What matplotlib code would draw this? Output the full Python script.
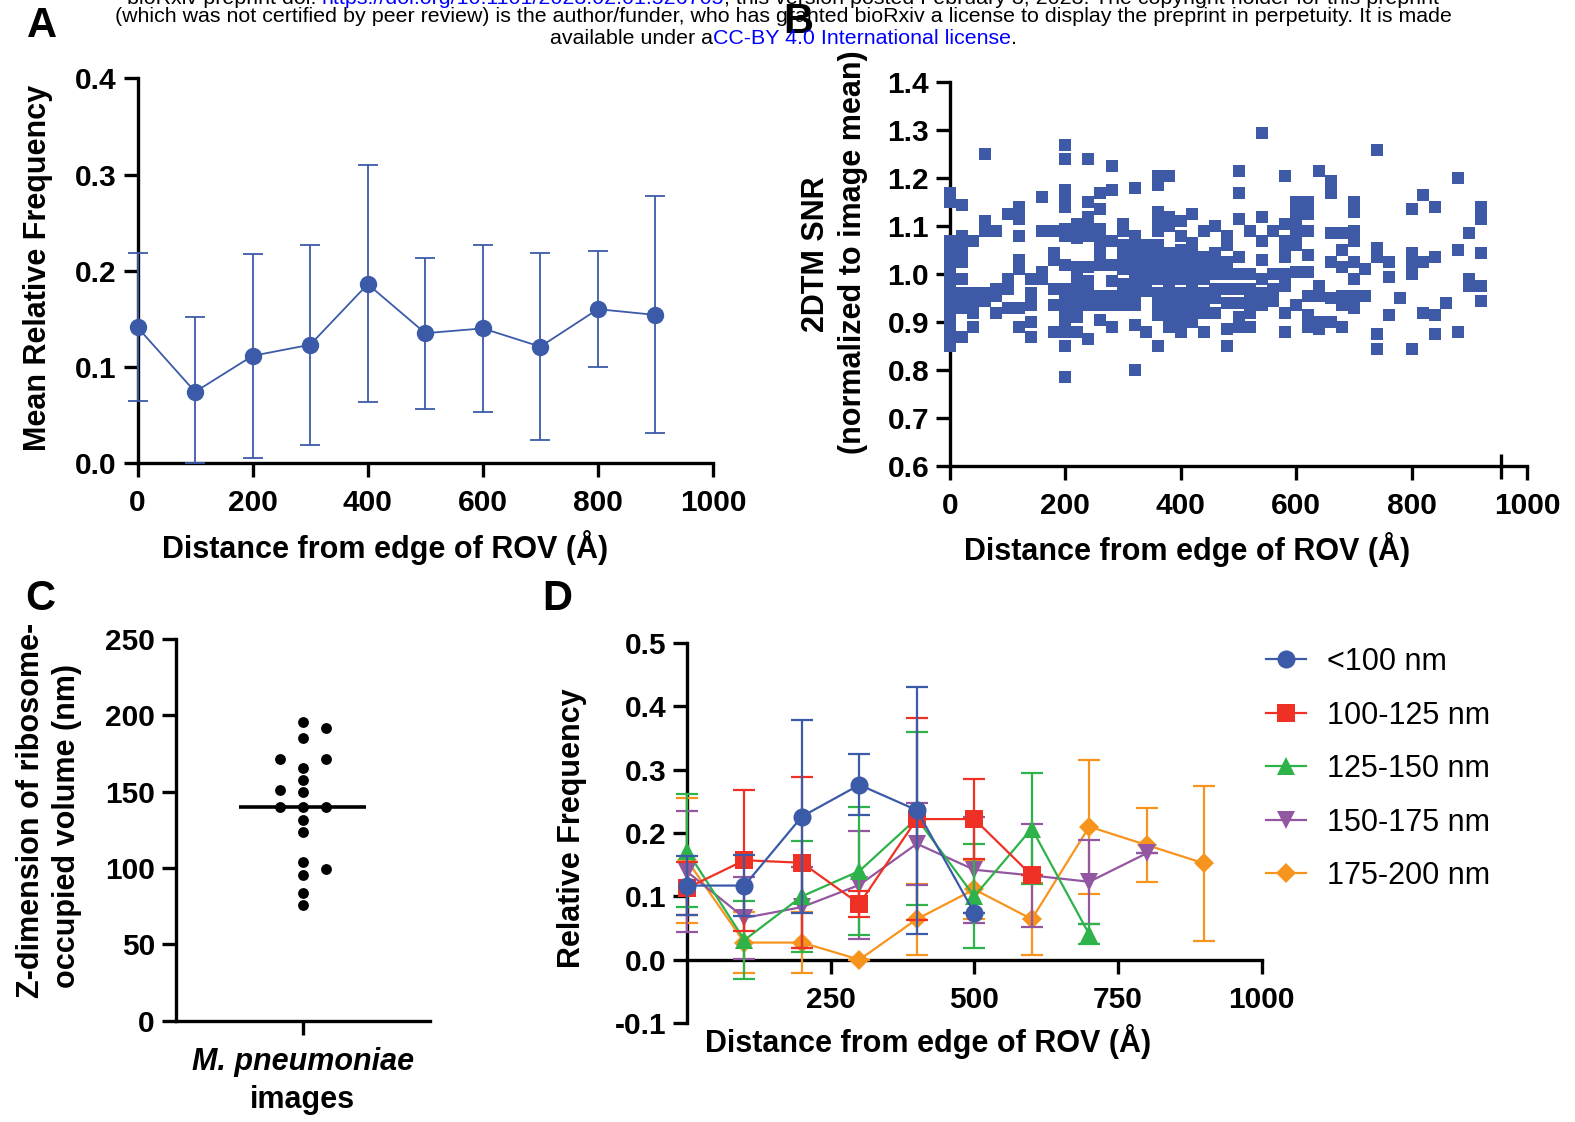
import matplotlib
matplotlib.use("Agg")
import matplotlib.pyplot as plt
import numpy as np

# ---- panel A: mean relative frequency vs distance ----
a_dist = [0, 100, 200, 300, 400, 500, 600, 700, 800, 900]
a_mean = [0.141, 0.074, 0.1115, 0.123, 0.186, 0.135, 0.140, 0.121, 0.160, 0.154]
a_low = [0.064, 0.0, 0.005, 0.019, 0.063, 0.056, 0.053, 0.024, 0.100, 0.031]
a_high = [0.218, 0.152, 0.217, 0.227, 0.310, 0.213, 0.227, 0.218, 0.2205, 0.278]

# ---- panel B: 2DTM SNR per particle, grouped by distance column ----
snr_dist = [0, 20, 40, 60, 80, 100, 120, 140, 160, 180, 200, 220, 240, 260, 280,
            300, 320, 340, 360, 380, 400, 420, 440, 460, 480, 500, 520, 540, 560,
            580, 600, 620, 640, 660, 680, 700, 720, 740, 760, 780, 800, 820, 840,
            860, 880, 900, 920]
snr_vals = [
    [1.17, 1.15, 1.07, 1.05, 1.03, 1.01, 0.99, 0.97, 0.95, 0.93, 0.91, 0.89, 0.87, 0.85],
    [1.145, 1.08, 1.065, 1.05, 1.025, 0.99, 0.96, 0.945, 0.93, 0.87],
    [1.07, 0.96, 0.935, 0.92, 0.89],
    [1.25, 1.11, 1.09, 0.96, 0.945],
    [1.09, 0.97, 0.955, 0.92],
    [1.125, 0.99, 0.97, 0.93],
    [1.14, 1.115, 1.08, 1.03, 1.01, 0.93, 0.89],
    [0.99, 0.96, 0.935, 0.90, 0.87],
    [1.16, 1.09, 1.005, 0.99],
    [1.09, 1.045, 1.03, 0.97, 0.935, 0.88],
    [1.27, 1.24, 1.175, 1.155, 1.14, 1.095, 1.08, 1.02, 0.97, 0.955, 0.93, 0.905, 0.88, 0.85, 0.785],
    [1.105, 1.09, 1.075, 1.015, 1.0, 0.985, 0.96, 0.935, 0.91, 0.88],
    [1.24, 1.15, 1.12, 1.095, 1.08, 1.015, 0.985, 0.96, 0.935, 0.865],
    [1.17, 1.135, 1.095, 1.07, 1.045, 1.02, 0.955, 0.935, 0.905],
    [1.225, 1.175, 1.07, 1.02, 0.985, 0.955, 0.935, 0.89],
    [1.105, 1.09, 1.06, 1.035, 1.01, 0.98, 0.955, 0.935],
    [1.18, 1.08, 1.055, 1.03, 1.01, 0.985, 0.96, 0.935, 0.895, 0.80],
    [1.06, 1.035, 1.01, 0.99, 0.965, 0.88],
    [1.205, 1.185, 1.13, 1.11, 1.09, 1.06, 1.035, 1.01, 0.99, 0.96, 0.935, 0.915, 0.85],
    [1.205, 1.12, 1.10, 1.045, 1.025, 1.0, 0.98, 0.96, 0.935, 0.91, 0.89],
    [1.11, 1.08, 1.05, 1.03, 1.01, 0.99, 0.96, 0.935, 0.915, 0.895, 0.88],
    [1.125, 1.065, 1.045, 1.02, 0.995, 0.97, 0.945, 0.925, 0.90],
    [1.09, 1.035, 1.01, 0.99, 0.96, 0.94, 0.92, 0.88],
    [1.10, 1.045, 1.025, 1.0, 0.97, 0.95, 0.92],
    [1.08, 1.06, 1.025, 1.0, 0.97, 0.94, 0.885, 0.85],
    [1.215, 1.17, 1.115, 1.035, 1.0, 0.97, 0.94, 0.91, 0.89],
    [1.09, 1.0, 0.97, 0.945, 0.92, 0.89],
    [1.295, 1.12, 1.07, 1.03, 0.99, 0.96, 0.935],
    [1.09, 1.0, 0.97, 0.945],
    [1.205, 1.105, 1.07, 1.045, 1.035, 1.0, 0.975, 0.92, 0.88],
    [1.15, 1.125, 1.10, 1.08, 1.06, 1.005, 0.935],
    [1.15, 1.125, 1.09, 1.04, 1.005, 0.955, 0.915, 0.89],
    [1.215, 0.975, 0.955, 0.90, 0.885],
    [1.195, 1.17, 1.085, 1.025, 0.95, 0.90],
    [1.085, 1.05, 1.015, 0.955, 0.935, 0.89],
    [1.15, 1.13, 1.09, 1.07, 1.025, 0.99, 0.955, 0.93],
    [1.01, 0.955],
    [1.26, 1.055, 1.035, 0.875, 0.845],
    [1.025, 0.995, 0.915],
    [0.95],
    [1.135, 1.045, 1.025, 1.0, 0.845],
    [1.165, 1.025, 0.92],
    [1.14, 1.035, 0.915, 0.875],
    [0.94],
    [1.20, 1.05, 0.88],
    [1.085, 0.99, 0.975],
    [1.14, 1.115, 1.045, 0.975, 0.945],
]

# ---- panel C: z-dimension per image (nm) ----
z_dim = [195.6, 185.3, 165.3, 157.7, 149.6, 139.8, 131.5, 123.7, 104.1, 95.4,
         83.8, 75.6, 191.6, 171.6, 171.6, 151.3, 139.8, 139.8, 99.5]

# ---- panel D: relative frequency per thickness bin ----
d_labels = ["<100 nm", "100-125 nm", "125-150 nm", "150-175 nm", "175-200 nm"]
d_dist = [
    [0, 100, 200, 300, 400, 500],
    [0, 100, 200, 300, 400, 500, 600],
    [0, 100, 200, 300, 400, 500, 600, 700],
    [0, 100, 200, 300, 400, 500, 600, 700, 800],
    [0, 100, 200, 300, 400, 500, 600, 700, 800, 900],
]
d_mean = [
    [0.117, 0.117, 0.226, 0.276, 0.236, 0.074],
    [0.113, 0.157, 0.153, 0.088, 0.222, 0.222, 0.133],
    [0.172, 0.031, 0.100, 0.140, 0.223, 0.100, 0.207, 0.040],
    [0.139, 0.066, 0.083, 0.118, 0.183, 0.142, 0.133, 0.123, 0.168],
    [0.157, 0.027, 0.027, 0.0, 0.064, 0.111, 0.064, 0.210, 0.181, 0.152],
]
d_sd = [
    [0.047, 0.048, 0.153, 0.048, 0.195, 0.0],
    [0.042, 0.111, 0.135, 0.021, 0.160, 0.063, 0.0],
    [0.089, 0.062, 0.088, 0.101, 0.137, 0.082, 0.088, 0.016],
    [0.095, 0.065, 0.064, 0.085, 0.065, 0.084, 0.081, 0.066, 0.0],
    [0.099, 0.048, 0.048, 0.0, 0.056, 0.046, 0.057, 0.106, 0.059, 0.123],
]
d_colors = ["#3B5BA8", "#EE3124", "#2DB34A", "#9356A0", "#F7941D"]
d_markers = ["o", "s", "^", "v", "D"]

BLUE = "#3B5BA8"
W, H = 1575, 1122
TICK_FS = 21.5
LABEL_FS = 22

plt.rcParams["font.family"] = ["Liberation Sans", "DejaVu Sans"]
plt.rcParams["font.weight"] = "bold"
plt.rcParams["axes.labelweight"] = "bold"

fig = plt.figure(figsize=(W / 100, H / 100), dpi=100)


def add_axes_px(left, top, right, bottom):
    return fig.add_axes([left / W, 1 - bottom / H, (right - left) / W, (bottom - top) / H])


def fig_text(x, y, s, **kw):
    return fig.text(x / W, 1 - y / H, s, **kw)


def style(ax):
    for s in ["top", "right"]:
        ax.spines[s].set_visible(False)
    for s in ["left", "bottom"]:
        ax.spines[s].set_linewidth(2.4)
    ax.tick_params(width=2.4, length=10, labelsize=TICK_FS, pad=5)


# ---------------- A ----------------
ax = add_axes_px(137.6, 78.4, 713, 463)
style(ax)
lo = np.array(a_mean) - np.array(a_low)
hi = np.array(a_high) - np.array(a_mean)
cont = ax.errorbar(a_dist, a_mean, yerr=[lo, hi], color=BLUE, lw=1.3, marker="o", ms=11.5,
                   capsize=7, capthick=1.3, elinewidth=1.3, zorder=3)
for art in cont.get_children():
    art.set_clip_on(False)
ax.set_xlim(0, 1000)
ax.set_ylim(0, 0.4)
ax.set_xticks(range(0, 1001, 200))
ax.set_yticks(np.arange(0, 0.41, 0.1))
ax.set_yticklabels([f"{v:.1f}" for v in np.arange(0, 0.41, 0.1)])
ax.tick_params(axis="x", pad=9)
fig_text(38, 268, "Mean Relative Frequency", rotation=90, ha="center", va="center", fontsize=LABEL_FS)
fig_text(385, 548, "Distance from edge of ROV (Å)", ha="center", va="center", fontsize=LABEL_FS)

# ---------------- B ----------------
ax = add_axes_px(950, 82.4, 1527, 466)
style(ax)
bx = np.concatenate([[d] * len(v) for d, v in zip(snr_dist, snr_vals)])
by = np.concatenate(snr_vals)
ax.plot(bx, by, "s", ms=8.6, color="#3E5AA7", mew=0, clip_on=False, zorder=3)
ax.set_xlim(0, 1000)
ax.set_ylim(0.6, 1.4)
ax.set_xticks(range(0, 1001, 200))
yt = np.arange(0.6, 1.41, 0.1)
ax.set_yticks(yt)
ax.set_yticklabels([f"{v:.1f}" for v in yt])
ax.set_xticks([955], minor=True)
ax.tick_params(axis="x", which="minor", direction="inout", length=18, width=2.4)
ax.tick_params(axis="x", pad=9)
fig_text(816, 254, "2DTM SNR", rotation=90, ha="center", va="center", fontsize=LABEL_FS)
fig_text(853, 252, "(normalized to image mean)", rotation=90, ha="center", va="center", fontsize=LABEL_FS)
fig_text(1187, 550, "Distance from edge of ROV (Å)", ha="center", va="center", fontsize=LABEL_FS)

# ---------------- C ----------------
ax = add_axes_px(175.8, 639, 430, 1020.6)
style(ax)
ax.set_xlim(-1, 1)
ax.set_ylim(0, 250)
ax.set_yticks(range(0, 251, 50))
ax.set_xticks([0])
ax.set_xticklabels([""])

# simple beeswarm: greedy, alternate side whenever a dot must move
step = 0.181
gap_px = 10.5
placed = []
side = 1
cx = []
for v in z_dim:
    ypix = ax.transData.transform((0, v))[1]

    def free(k):
        return all(abs(ypix - py) >= gap_px for pk, py in placed if pk == k)

    k = 0
    if not free(0):
        n = 1
        while True:
            if free(side * n):
                k = side * n
                break
            if free(-side * n):
                k = -side * n
                break
            n += 1
        side = -side
    placed.append((k, ypix))
    cx.append(k * step)

ax.plot(cx, z_dim, "o", color="black", ms=7.8, mew=0, zorder=3)
med = np.median(z_dim)
ax.hlines(med, -0.5, 0.5, color="black", lw=2.6, zorder=4)
ax.text(0, -0.108, "M. pneumoniae", style="italic", transform=ax.get_xaxis_transform(),
        ha="center", va="center", fontsize=LABEL_FS)
ax.text(0, -0.208, "images", transform=ax.get_xaxis_transform(),
        ha="center", va="center", fontsize=LABEL_FS)
fig_text(31, 810, "Z-dimension of ribosome-", rotation=90, ha="center", va="center", fontsize=LABEL_FS)
fig_text(67, 826, "occupied volume (nm)", rotation=90, ha="center", va="center", fontsize=LABEL_FS)

# ---------------- D ----------------
ax = add_axes_px(687, 643, 1261.6, 1023)
style(ax)
ax.spines["bottom"].set_position(("data", 0))
handles = []
for i in range(len(d_labels)):
    c = ax.errorbar(d_dist[i], d_mean[i], yerr=d_sd[i], color=d_colors[i], lw=1.6,
                    marker=d_markers[i], ms=13 if d_markers[i] != "D" else 10.5,
                    capsize=8, capthick=1.6, elinewidth=1.6, zorder=3 + (5 - i))
    c[0].set_markeredgewidth(0)
    for art in c.get_children():
        art.set_clip_on(False)
    handles.append(c[0])
ax.set_xlim(0, 1000)
ax.set_ylim(-0.1, 0.5)
ax.set_xticks([250, 500, 750, 1000])
ytd = np.arange(-0.1, 0.51, 0.1)
ax.set_yticks(ytd)
ax.set_yticklabels([f"{v:.1f}" for v in ytd])
ax.tick_params(axis="x", pad=9)
fig_text(572, 828, "Relative Frequency", rotation=90, ha="center", va="center", fontsize=LABEL_FS)
fig_text(928, 1042, "Distance from edge of ROV (Å)", ha="center", va="center", fontsize=LABEL_FS)
fig.legend(handles, d_labels, loc="upper left", bbox_to_anchor=(1266 / W, 1 - 647 / H),
           frameon=False, prop={"weight": "normal", "size": 22}, handlelength=1.3,
           handletextpad=0.7, labelspacing=0.77, borderpad=0, borderaxespad=0)

# ---------------- panel letters ----------------
for letter, x, y in [("A", 42, 26), ("B", 798, 22), ("C", 40, 599), ("D", 557, 599)]:
    fig_text(x, y, letter, ha="center", va="center", fontsize=30)

# ---------------- preprint header ----------------
hdr_font = ["Liberation Sans Narrow", "Liberation Sans", "DejaVu Sans"]
renderer = fig.canvas.get_renderer()


def header_line(y, parts, size=15.4, center=783):
    texts = [fig_text(0, y, s, color=c, ha="left", va="center", fontsize=size,
                      fontweight="normal", family=hdr_font) for s, c in parts]
    widths = [t.get_window_extent(renderer).width for t in texts]
    x = center - sum(widths) / 2
    for t, w in zip(texts, widths):
        t.set_x(x / W)
        x += w


LINK = "#0000FF"
header_line(-2, [("bioRxiv preprint doi: ", "black"),
                 ("https://doi.org/10.1101/2023.02.01.526705", LINK),
                 ("; this version posted February 3, 2023. The copyright holder for this preprint", "black")])
header_line(17, [("(which was not certified by peer review) is the author/funder, who has granted bioRxiv "
                  "a license to display the preprint in perpetuity. It is made", "black")])
header_line(38, [("available under a", "black"), ("CC-BY 4.0 International license", LINK), (".", "black")])

fig.savefig("out.png", dpi=100)
